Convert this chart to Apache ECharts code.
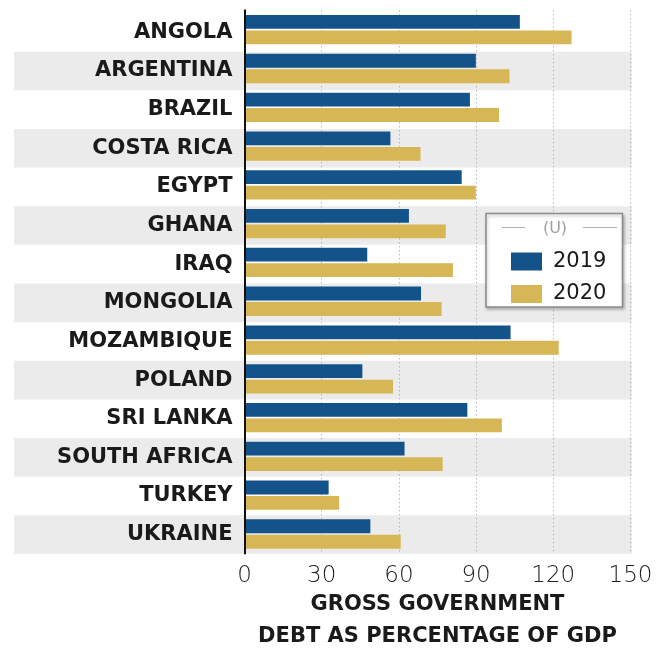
<!DOCTYPE html>
<html>
<head>
<meta charset="utf-8">
<script src="https://cdn.jsdelivr.net/npm/echarts@6/dist/echarts.min.js"></script>
<style>
html,body{margin:0;padding:0;background:#fff;}
#chart{width:667px;height:648px;}
</style>
</head>
<body>
<div id="chart"></div>
<script>
const categories = ['ANGOLA','ARGENTINA','BRAZIL','COSTA RICA','EGYPT','GHANA','IRAQ','MONGOLIA','MOZAMBIQUE','POLAND','SRI LANKA','SOUTH AFRICA','TURKEY','UKRAINE'];
const values2019 = [107.0, 89.9, 87.6, 56.7, 84.4, 63.9, 47.7, 68.6, 103.4, 45.8, 86.6, 62.2, 32.7, 48.9];
const values2020 = [127.1, 103.0, 98.9, 68.4, 89.9, 78.2, 81.0, 76.6, 122.1, 57.7, 100.0, 77.0, 36.8, 60.7];
const seriesNames = ['2019', '2020'];
const xTicks = [0, 30, 60, 90, 120, 150];
const axisTitle = 'GROSS GOVERNMENT\nDEBT AS PERCENTAGE OF GDP';
const legendTitle = '(U)';

const chart = echarts.init(document.getElementById('chart'), null, {renderer: 'canvas'});
const BLUE = '#14538a';
const GOLD = '#d6b655';
const boldFont = 'DejaVu Sans';

const option = {
  animation: false,
  backgroundColor: '#ffffff',
  grid: [
    {left: 244.5, right: 36.5, top: 10.3, bottom: 94.6, containLabel: false, outerBoundsMode: 'none'},
    {left: 14, right: 35, top: 13, bottom: 94, containLabel: false, outerBoundsMode: 'none'}
  ],
  xAxis: [
    {
      gridIndex: 0, type: 'value', min: xTicks[0], max: xTicks[xTicks.length - 1], interval: xTicks[1] - xTicks[0],
      z: 1,
      axisLine: {show: false}, axisTick: {show: false},
      splitLine: {show: true, lineStyle: {color: '#9a9a9a', width: 1, type: [1, 3]}},
      axisLabel: {fontFamily: 'DejaVu Sans', fontWeight: 200, fontSize: 23, color: '#222', margin: 11},
      name: axisTitle, nameLocation: 'middle', nameGap: 34.8, nameMoveOverlap: false,
      nameTextStyle: {fontFamily: boldFont, fontWeight: 'bold', fontSize: 21, lineHeight: 32, color: '#1a1a1a'}
    },
    {gridIndex: 1, type: 'value', min: 0, max: 1, show: false}
  ],
  yAxis: [
    {
      gridIndex: 0, type: 'category', data: categories, inverse: true, z: 3,
      axisLine: {show: true, lineStyle: {color: '#111', width: 2}},
      axisTick: {show: false}, axisLabel: {show: false}, splitLine: {show: false}
    },
    {
      gridIndex: 1, type: 'category', data: categories, inverse: true, z: 0,
      offset: -230.5,
      axisLine: {show: false}, axisTick: {show: false}, splitLine: {show: false},
      splitArea: {show: true, areaStyle: {color: ['rgba(255,255,255,0)', '#ebebeb']}},
      axisLabel: {fontFamily: boldFont, fontWeight: 'bold', fontSize: 21, color: '#1a1a1a', margin: 12}
    }
  ],
  legend: {
    data: seriesNames,
    orient: 'vertical',
    left: 511, top: 251,
    padding: 0,
    itemWidth: 31, itemHeight: 18, itemGap: 11.5,
    icon: 'rect',
    z: 20,
    textStyle: {fontFamily: 'DejaVu Sans', fontSize: 21, color: '#1a1a1a', lineHeight: 18, padding: [0, 0, 0, 6]}
  },
  graphic: [
    {type: 'rect', z: 10, shape: {x: 486, y: 213.5, width: 136.5, height: 93.5},
      style: {fill: '#ffffff', stroke: '#8c8c8c', lineWidth: 1.5, shadowBlur: 3, shadowOffsetX: 1, shadowOffsetY: 2, shadowColor: 'rgba(0,0,0,0.25)'}},
    {type: 'line', z: 20, shape: {x1: 502, y1: 227.5, x2: 525, y2: 227.5}, style: {stroke: '#b0b0b0', lineWidth: 1}},
    {type: 'line', z: 20, shape: {x1: 583, y1: 227.5, x2: 617, y2: 227.5}, style: {stroke: '#b0b0b0', lineWidth: 1}},
    {type: 'text', z: 20, x: 555, y: 229, style: {text: legendTitle, fontFamily: 'DejaVu Sans', fontSize: 16, fill: '#a0a0a0', align: 'center', verticalAlign: 'middle'}}
  ],
  series: [
    {name: seriesNames[0], type: 'bar', xAxisIndex: 0, yAxisIndex: 0, data: values2019,
      barCategoryGap: '24.5%', barGap: '12%', itemStyle: {color: BLUE}, z: 2},
    {name: seriesNames[1], type: 'bar', xAxisIndex: 0, yAxisIndex: 0, data: values2020,
      barCategoryGap: '24.5%', barGap: '12%', itemStyle: {color: GOLD}, z: 2}
  ]
};
chart.setOption(option);
</script>
</body>
</html>
